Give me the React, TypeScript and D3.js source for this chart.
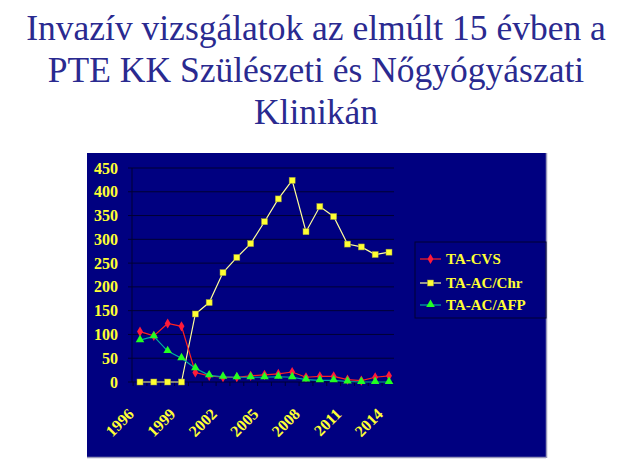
import React from "react";
import * as d3 from "d3";

const titleLines = [
  "Invazív vizsgálatok az elmúlt 15 évben a",
  "PTE KK Szülészeti és Nőgyógyászati",
  "Klinikán",
];
const years = [1996, 1997, 1998, 1999, 2000, 2001, 2002, 2003, 2004, 2005, 2006, 2007, 2008, 2009, 2010, 2011, 2012, 2013, 2014];
const yearLabels = [1996, 1999, 2002, 2005, 2008, 2011, 2014];
const yTicks = [0, 50, 100, 150, 200, 250, 300, 350, 400, 450];
const taCvs = [106, 97, 123, 117, 20, 13, 10, 10, 13, 15, 17, 21, 10, 12, 12, 5, 3, 10, 13];
const taAcChr = [0, 0, 0, 0, 143, 167, 230, 262, 291, 337, 385, 424, 316, 369, 348, 290, 284, 268, 273];
const taAcAfp = [88, 96, 65, 50, 29, 14, 11, 10, 10, 10, 11, 10, 5, 3.5, 3.5, 1, 0, 0, 0];
const seriesNames = ["TA-CVS", "TA-AC/Chr", "TA-AC/AFP"];

const SERIF = "Liberation Serif, Times New Roman, Tinos, DejaVu Serif, serif";

export default function App() {
  const W = 632, H = 464;
  const plotL = 132, plotR = 394, plotT = 168, plotB = 382;
  const x = d3.scalePoint<number>().domain(years).range([140, 389]);
  const y = d3.scaleLinear().domain([0, 450]).range([plotB, plotT]);
  const line = d3.line<number>().x((_, i) => x(years[i]) as number).y((v) => y(v));

  const series = [
    { name: seriesNames[0], data: taCvs, line: "#ff2020", marker: "#ff1a3a", shape: "diamond" },
    { name: seriesNames[1], data: taAcChr, line: "#ffff99", marker: "#ffff33", shape: "square" },
    { name: seriesNames[2], data: taAcAfp, line: "#00b0a0", marker: "#22ff22", shape: "triangle" },
  ];
  const drawOrder = [1, 0, 2];

  const marker = (shape: string, cx: number, cy: number, fill: string, key: any) => {
    if (shape === "square") return <rect key={key} x={cx - 3} y={cy - 3} width={6} height={6} fill={fill} stroke="#99993a" strokeWidth={0.5} />;
    if (shape === "diamond") {
      const p = d3.symbol().type(d3.symbolDiamond).size(30)();
      return <path key={key} d={p as string} transform={`translate(${cx},${cy})`} fill={fill} />;
    }
    const p = d3.symbol().type(d3.symbolTriangle).size(32)();
    return <path key={key} d={p as string} transform={`translate(${cx},${cy - 0.5})`} fill={fill} />;
  };

  const legendY = [259, 283, 305];

  return (
    <svg width={W} height={H} style={{ position: "absolute", left: 0, top: 0, background: "#fff" }}>
      {titleLines.map((t, i) => (
        <text key={i} x={316} y={40 + i * 42} textAnchor="middle" style={{ fontFamily: SERIF }} fontSize={35.5} fill="#2a2a90">
          {t}
        </text>
      ))}
      <rect x={87} y={153} width={459} height={304} fill="#000080" />
      <line x1={87} y1={457.5} x2={546} y2={457.5} stroke="#9999bb" strokeWidth={1.5} />
      <line x1={546.5} y1={153} x2={546.5} y2={458} stroke="#9999bb" strokeWidth={1.5} />
      {yTicks.map((t) => (
        <g key={t}>
          <line x1={plotL - 4} x2={plotR} y1={y(t)} y2={y(t)} stroke="#000033" strokeWidth={1} />
          <text x={118} y={y(t) + 5.5} textAnchor="end" style={{ fontFamily: SERIF }} fontWeight="bold" fontSize={16} fill="#ffff33">
            {t}
          </text>
        </g>
      ))}
      <line x1={plotL} x2={plotL} y1={plotT} y2={plotB} stroke="#000033" strokeWidth={1} />
      {years.map((yr) => (
        <line key={yr} x1={(x(yr) as number) - 6.9} x2={(x(yr) as number) - 6.9} y1={plotB} y2={plotB + 4} stroke="#000033" />
      ))}
      {yearLabels.map((yr) => {
        const cx = (x(yr) as number) - 5;
        const cy = 415;
        return (
          <text key={yr} x={cx} y={cy} transform={`rotate(-45,${cx},${cy})`} textAnchor="end" style={{ fontFamily: SERIF }} fontWeight="bold" fontSize={16} fill="#ffff33">
            {yr}
          </text>
        );
      })}
      {drawOrder.map((si) => {
        const s = series[si];
        return (
          <g key={s.name}>
            <path d={line(s.data) as string} fill="none" stroke={s.line} strokeWidth={1.2} />
            {s.data.map((v, i) => marker(s.shape, x(years[i]) as number, y(v), s.marker, i))}
          </g>
        );
      })}
      <rect x={415} y={242} width={131} height={76} fill="none" stroke="#000033" strokeWidth={1} />
      {series.map((s, i) => (
        <g key={s.name}>
          <line x1={420} x2={441} y1={legendY[i]} y2={legendY[i]} stroke={s.line} strokeWidth={1.2} />
          {marker(s.shape, 430.5, legendY[i], s.marker, "m" + i)}
          <text x={446} y={legendY[i] + 5} style={{ fontFamily: SERIF }} fontWeight="bold" fontSize={15} fill="#ffff33">
            {s.name}
          </text>
        </g>
      ))}
    </svg>
  );
}
